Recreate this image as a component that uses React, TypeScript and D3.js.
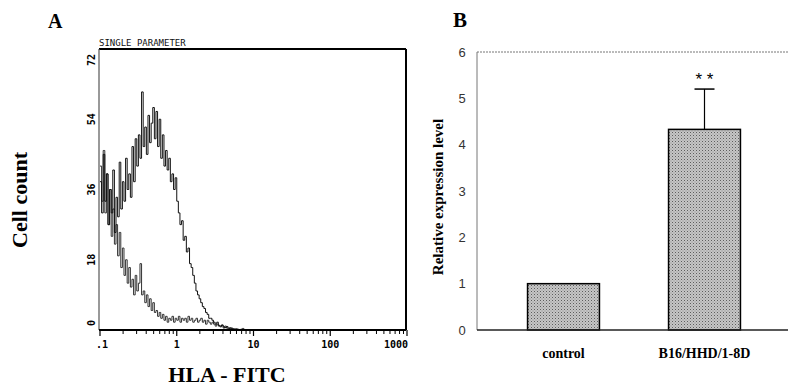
import React, { useEffect, useRef } from "react";
import * as d3 from "d3";

// Panel A: flow histogram, counts per log channel (48 channels per decade, starting at 0.1)
const CHANNELS_PER_DECADE = 48;
const hlaStained = [
  38, 30, 45, 33, 40, 27, 36, 30, 41, 25, 34, 29,
  43, 31, 38, 33, 44, 36, 40, 34, 47, 38, 49, 42,
  50, 44, 61, 47, 52, 45, 55, 48, 53, 57, 49, 56,
  47, 54, 44, 50, 42, 46, 41, 44, 38, 40, 36, 39,
  33, 30, 27, 28, 23, 24, 20, 21, 17, 16, 14, 12,
  10, 9, 8, 7, 6, 5.5, 4.5, 4, 3, 3, 2.5, 2,
  1.5, 2, 1.2, 1, 1.3, 0.8, 0.6, 0.9, 0.5, 0.3, 0.5, 0.3,
  0, 0.3, 0, 0, 0.2, 0, 0, 0, 0, 0, 0, 0,
];
const isotypeControl = [
  42, 33, 46, 30, 40, 27, 36, 24, 31, 22, 27, 19,
  25, 16, 21, 14, 18, 12, 16, 11, 13, 9, 14, 10,
  12, 17, 9, 10, 7, 9, 6, 8, 5, 7, 4.5, 5,
  3.5, 4.5, 3, 4, 2.5, 3.5, 2, 3, 2.5, 3.5, 2, 3,
  2.5, 3.5, 2, 3, 2.5, 3, 2, 3.5, 2.5, 3, 2, 2.5,
  3, 2, 2.5, 3, 2, 2.5, 1.5, 2.5, 2, 1.5, 2, 1.5,
  1, 1.5, 1, 0.8, 1.2, 0.5, 1, 0.5, 0.3, 0.6, 0.3, 0.2,
  0.3, 0, 0.2, 0, 0, 0.4, 0, 0, 0, 0, 0, 0,
];
const countTicks = [0, 18, 36, 54, 72];
const fitcTicks = [0.1, 1, 10, 100, 1000];
const fitcTickLabels = [".1", "1", "10", "100", "1000"];

// Panel B: relative expression
const groups = ["control", "B16/HHD/1-8D"];
const expression = [1.0, 4.33];
const expressionErr = [0, 0.87];
const levelTicks = [0, 1, 2, 3, 4, 5, 6];

const App = () => {
  const svgRef = useRef<SVGSVGElement>(null);

  useEffect(() => {
    const width = 788;
    const height = 387;
    const svg = d3.select(svgRef.current);
    svg.selectAll("*").remove();
    svg.attr("width", width).attr("height", height);

    const defs = svg.append("defs");
    const pat = defs
      .append("pattern")
      .attr("id", "stipple")
      .attr("width", 3)
      .attr("height", 3)
      .attr("patternUnits", "userSpaceOnUse");
    pat.append("rect").attr("width", 3).attr("height", 3).attr("fill", "#c6c6c6");
    pat.append("rect").attr("width", 1).attr("height", 1).attr("fill", "#5e5e5e");
    pat.append("rect").attr("x", 1.5).attr("y", 1.5).attr("width", 1).attr("height", 1).attr("fill", "#8a8a8a");

    // ---------------- Panel A ----------------
    const ax = { left: 99, right: 406, top: 49, bottom: 330 };
    const x = d3.scaleLog().domain([0.1, 1000]).range([100, 407]);
    const y = d3.scaleLinear().domain([0, 72]).range([ax.bottom, ax.top]);

    const a = svg.append("g");

    a.append("text")
      .attr("x", 48)
      .attr("y", 28)
      .style("font-family", "'Liberation Serif', 'Times New Roman', serif")
      .style("font-weight", "bold")
      .style("font-size", "20px")
      .text("A");

    a.append("text")
      .attr("x", ax.left)
      .attr("y", 46)
      .style("font-family", "'DejaVu Sans Mono', monospace")
      .style("font-size", "9px")
      .style("fill", "#111")
      .text("SINGLE PARAMETER");

    // frame
    a.append("line")
      .attr("x1", ax.left).attr("x2", ax.right)
      .attr("y1", ax.top).attr("y2", ax.top)
      .attr("stroke", "#000").attr("stroke-width", 2);
    a.append("line")
      .attr("x1", ax.right).attr("x2", ax.right)
      .attr("y1", ax.top).attr("y2", ax.bottom)
      .attr("stroke", "#000").attr("stroke-width", 2);
    a.append("line")
      .attr("x1", ax.left).attr("x2", ax.left)
      .attr("y1", ax.top).attr("y2", ax.bottom)
      .attr("stroke", "#555").attr("stroke-width", 1.2);

    // histograms
    const edge = (i: number) => 0.1 * Math.pow(10, i / CHANNELS_PER_DECADE);
    const stepLine = d3
      .line<number>()
      .x((_, i) => x(edge(i)))
      .y((d) => y(d))
      .curve(d3.curveStepAfter);

    [
      { values: isotypeControl, color: "#333" },
      { values: hlaStained, color: "#111" },
    ].forEach((s) => {
      a.append("path")
        .datum([...s.values, 0])
        .attr("d", stepLine)
        .attr("fill", "none")
        .attr("stroke", s.color)
        .attr("stroke-width", 1);
    });

    // bottom axis
    a.append("line")
      .attr("x1", ax.left).attr("x2", ax.right)
      .attr("y1", ax.bottom).attr("y2", ax.bottom)
      .attr("stroke", "#000").attr("stroke-width", 2);

    const minor: number[] = [];
    [0.1, 1, 10, 100].forEach((dec) => {
      for (let k = 2; k <= 9; k++) minor.push(dec * k);
    });
    a.selectAll(".minor")
      .data(minor)
      .join("line")
      .attr("x1", (d) => x(d)).attr("x2", (d) => x(d))
      .attr("y1", ax.bottom).attr("y2", ax.bottom + 4)
      .attr("stroke", "#000").attr("stroke-width", 1);
    a.selectAll(".major")
      .data(fitcTicks)
      .join("line")
      .attr("x1", (d) => x(d)).attr("x2", (d) => x(d))
      .attr("y1", ax.bottom).attr("y2", ax.bottom + 6)
      .attr("stroke", "#000").attr("stroke-width", 1.2);

    a.selectAll(".xlab")
      .data(fitcTicks)
      .join("text")
      .attr("x", (d, i) => x(d) + (i === 0 ? 2 : i === 4 ? -11 : 0))
      .attr("y", 348)
      .attr("text-anchor", "middle")
      .style("font-family", "'DejaVu Sans Mono', monospace")
      .style("font-size", "10px")
      .style("font-weight", "bold")
      .text((_, i) => fitcTickLabels[i]);

    a.selectAll(".ylab")
      .data(countTicks)
      .join("text")
      .attr("transform", (d) => {
        const yy = Math.min(Math.max(y(d), ax.top + 11), ax.bottom - 7);
        return `translate(95, ${yy}) rotate(-90)`;
      })
      .attr("text-anchor", "middle")
      .style("font-family", "'DejaVu Sans Mono', monospace")
      .style("font-size", "10px")
      .style("font-weight", "bold")
      .text((d) => d);

    a.append("text")
      .attr("transform", "translate(27, 200) rotate(-90)")
      .attr("text-anchor", "middle")
      .style("font-family", "'Liberation Serif', 'Times New Roman', serif")
      .style("font-weight", "bold")
      .style("font-size", "22px")
      .text("Cell count");

    a.append("text")
      .attr("x", 227)
      .attr("y", 382)
      .attr("text-anchor", "middle")
      .style("font-family", "'Liberation Serif', 'Times New Roman', serif")
      .style("font-weight", "bold")
      .style("font-size", "22px")
      .text("HLA - FITC");

    // ---------------- Panel B ----------------
    const bx = { left: 477, right: 788, top: 52, bottom: 330 };
    const yB = d3.scaleLinear().domain([0, 6]).range([bx.bottom, bx.top]);
    const xB = d3
      .scaleBand()
      .domain(groups)
      .range([493, 775])
      .paddingInner(0.49)
      .paddingOuter(0.245);

    const b = svg.append("g");

    b.append("text")
      .attr("x", 453)
      .attr("y", 27)
      .style("font-family", "'Liberation Serif', 'Times New Roman', serif")
      .style("font-weight", "bold")
      .style("font-size", "21px")
      .text("B");

    b.append("line")
      .attr("x1", bx.left).attr("x2", bx.right)
      .attr("y1", yB(6)).attr("y2", yB(6))
      .attr("stroke", "#777").attr("stroke-width", 1)
      .attr("stroke-dasharray", "2,1");
    b.append("line")
      .attr("x1", bx.left).attr("x2", bx.left)
      .attr("y1", bx.top).attr("y2", bx.bottom)
      .attr("stroke", "#777").attr("stroke-width", 1);

    b.selectAll(".ytick")
      .data(levelTicks)
      .join("text")
      .attr("x", 462)
      .attr("y", (d) => yB(d))
      .attr("dy", "0.35em")
      .attr("text-anchor", "middle")
      .style("font-family", "'Liberation Sans', Arial, sans-serif")
      .style("font-size", "13px")
      .style("fill", "#333")
      .text((d) => d);

    // error bar (upper half only)
    groups.forEach((g, i) => {
      if (expressionErr[i] <= 0) return;
      const cx = (xB(g) as number) + xB.bandwidth() / 2;
      b.append("line")
        .attr("x1", cx).attr("x2", cx)
        .attr("y1", yB(expression[i])).attr("y2", yB(expression[i] + expressionErr[i]))
        .attr("stroke", "#000").attr("stroke-width", 1.2);
      b.append("line")
        .attr("x1", cx - 10).attr("x2", cx + 10)
        .attr("y1", yB(expression[i] + expressionErr[i]))
        .attr("y2", yB(expression[i] + expressionErr[i]))
        .attr("stroke", "#000").attr("stroke-width", 1.5);
    });

    b.selectAll(".bar")
      .data(groups)
      .join("rect")
      .attr("x", (d) => xB(d) as number)
      .attr("y", (_, i) => yB(expression[i]))
      .attr("width", xB.bandwidth())
      .attr("height", (_, i) => bx.bottom - yB(expression[i]))
      .attr("fill", "url(#stipple)")
      .attr("stroke", "#000")
      .attr("stroke-width", 1.5);

    b.append("line")
      .attr("x1", bx.left).attr("x2", bx.right)
      .attr("y1", bx.bottom).attr("y2", bx.bottom)
      .attr("stroke", "#222").attr("stroke-width", 1.5);

    // significance
    const sigX = (xB(groups[1]) as number) + xB.bandwidth() / 2;
    b.append("text")
      .attr("x", sigX)
      .attr("y", yB(expression[1] + expressionErr[1]) - 4)
      .attr("text-anchor", "middle")
      .style("font-family", "'Liberation Sans', Arial, sans-serif")
      .style("font-size", "17px")
      .text("* *");

    b.selectAll(".cat")
      .data(groups)
      .join("text")
      .attr("x", (d) => (xB(d) as number) + xB.bandwidth() / 2)
      .attr("y", 358)
      .attr("text-anchor", "middle")
      .style("font-family", "'Liberation Serif', 'Times New Roman', serif")
      .style("font-weight", "bold")
      .style("font-size", "14px")
      .text((d) => d);

    b.append("text")
      .attr("transform", "translate(443, 197) rotate(-90)")
      .attr("text-anchor", "middle")
      .style("font-family", "'Liberation Serif', 'Times New Roman', serif")
      .style("font-weight", "bold")
      .style("font-size", "15px")
      .text("Relative expression level");
  }, []);

  return (
    <div style={{ position: "absolute", left: 0, top: 0, background: "#fff" }}>
      <svg ref={svgRef}></svg>
    </div>
  );
};

export default App;
